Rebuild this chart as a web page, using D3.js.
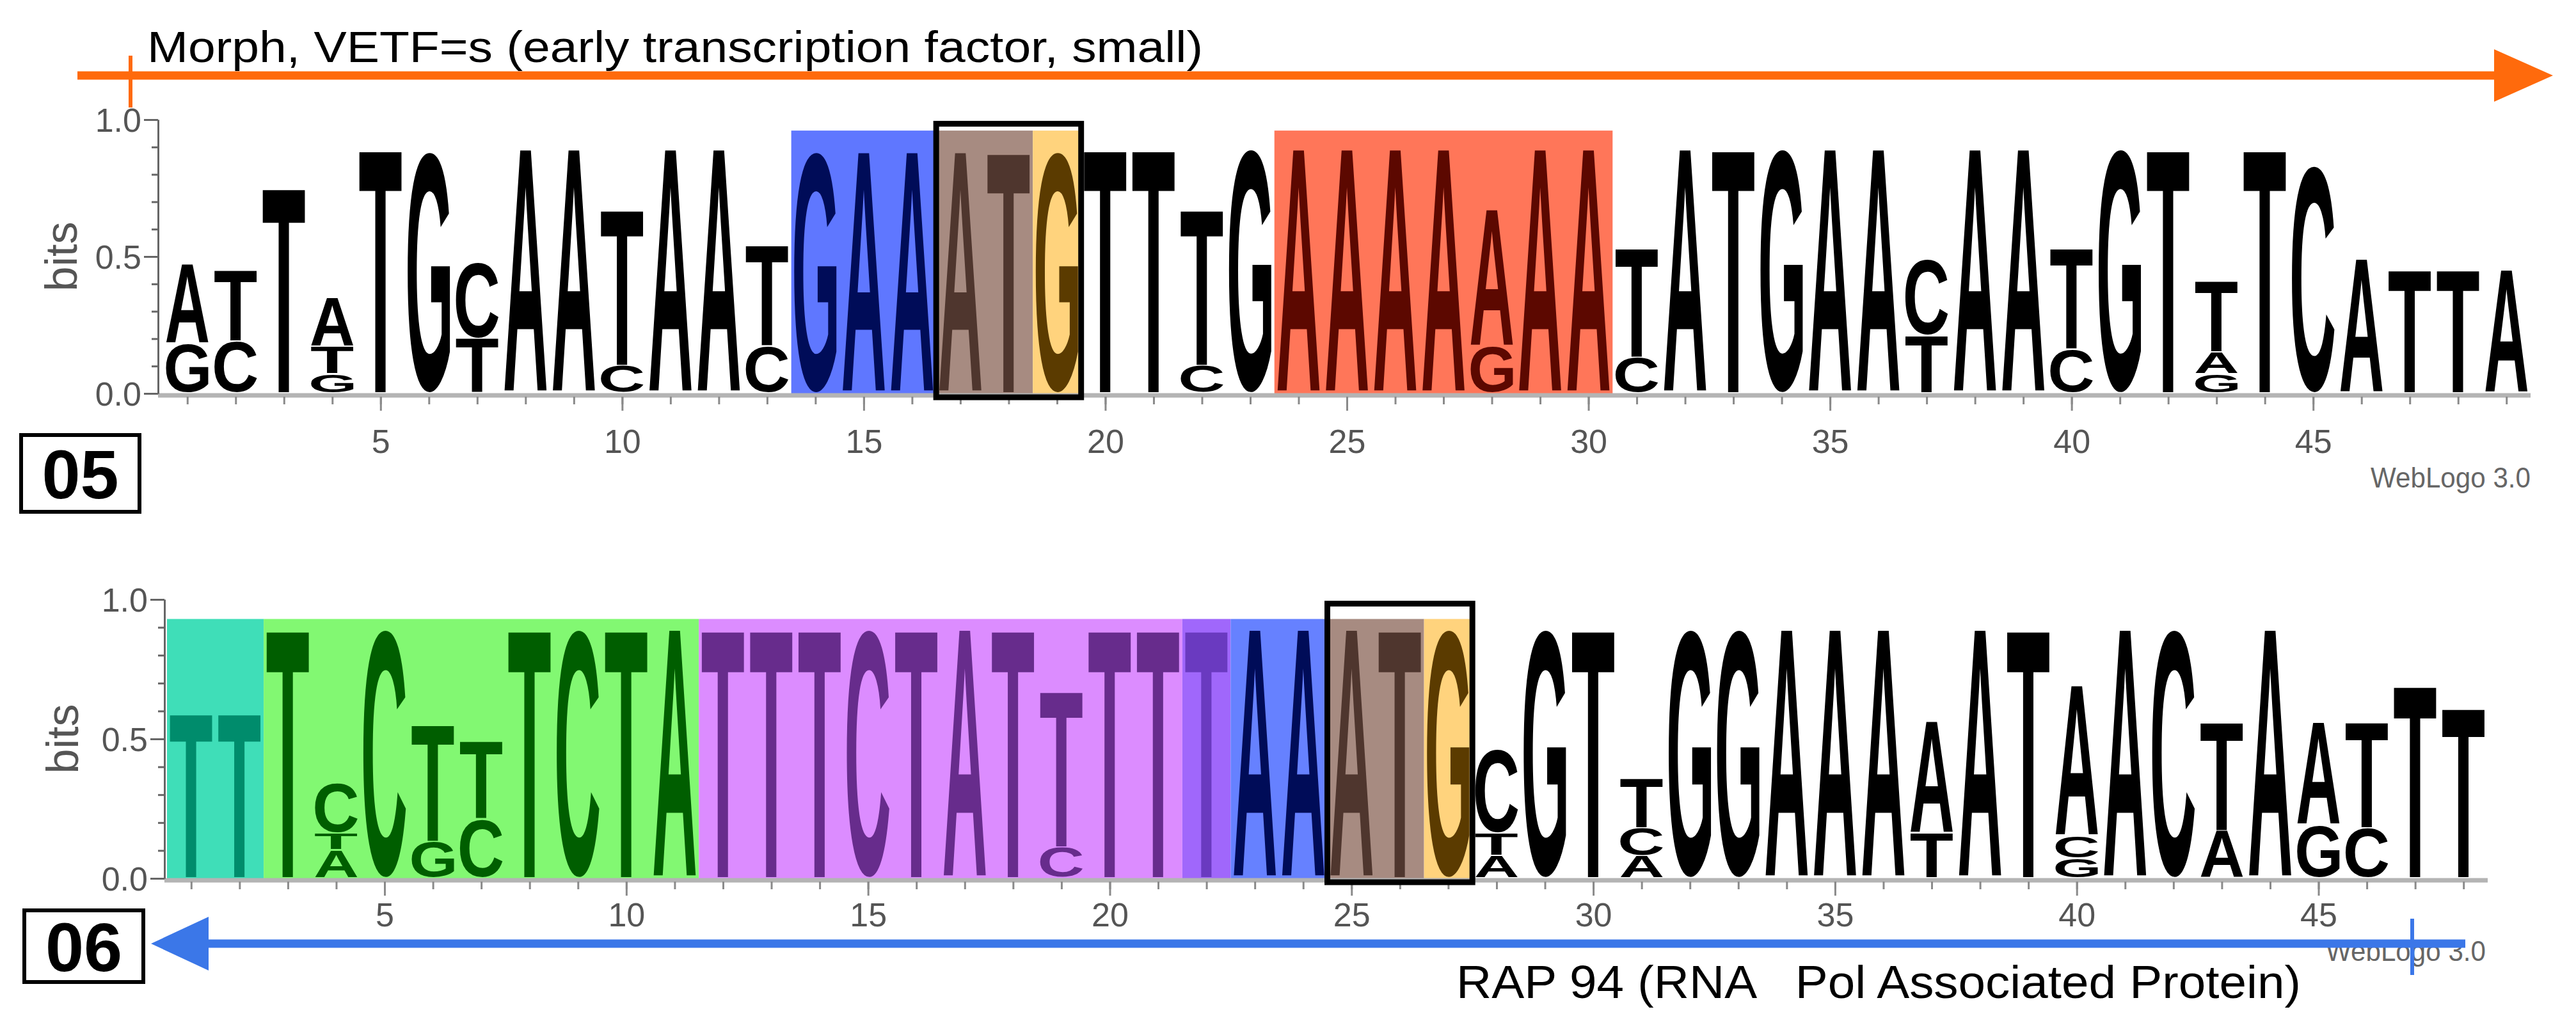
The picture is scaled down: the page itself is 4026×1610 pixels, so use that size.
<!DOCTYPE html>
<html>
<head>
<meta charset="utf-8">
<script src="https://cdn.jsdelivr.net/npm/d3@7"></script>
<style>
  html, body { margin: 0; padding: 0; background: #ffffff; }
  svg { display: block; }
  text { font-family: "Liberation Sans", Arial, Helvetica, sans-serif; }
</style>
</head>
<body>
<script>
// ---------------- DATA ----------------
// Each position: stack of [letter, bits], bottom to top.
const logo05 = [
  [["G",0.18],["A",0.29]],
  [["C",0.19],["T",0.26]],
  [["T",0.75]],
  [["G",0.07],["T",0.10],["A",0.18]],
  [["T",0.89]],
  [["G",0.88]],
  [["T",0.20],["C",0.28]],
  [["A",0.89]],
  [["A",0.89]],
  [["C",0.10],["T",0.57]],
  [["A",0.89]],
  [["A",0.89]],
  [["C",0.17],["T",0.37]],
  [["G",0.88]],
  [["A",0.88]],
  [["A",0.88]],
  [["A",0.88]],
  [["T",0.88]],
  [["G",0.88]],
  [["T",0.89]],
  [["T",0.89]],
  [["C",0.10],["T",0.57]],
  [["G",0.89]],
  [["A",0.89]],
  [["A",0.89]],
  [["A",0.89]],
  [["A",0.89]],
  [["G",0.17],["A",0.50]],
  [["A",0.89]],
  [["A",0.89]],
  [["C",0.13],["T",0.40]],
  [["A",0.89]],
  [["T",0.89]],
  [["G",0.89]],
  [["A",0.89]],
  [["A",0.89]],
  [["T",0.21],["C",0.28]],
  [["A",0.89]],
  [["A",0.89]],
  [["C",0.16],["T",0.37]],
  [["G",0.89]],
  [["T",0.89]],
  [["G",0.07],["A",0.08],["T",0.26]],
  [["T",0.89]],
  [["C",0.83]],
  [["A",0.49]],
  [["T",0.45]],
  [["T",0.45]],
  [["A",0.45]]
];

const logo06 = [
  [["T",0.59]],
  [["T",0.59]],
  [["T",0.89]],
  [["A",0.10],["T",0.06],["C",0.18]],
  [["C",0.89]],
  [["G",0.13],["T",0.42]],
  [["C",0.21],["T",0.28]],
  [["T",0.89]],
  [["C",0.89]],
  [["T",0.89]],
  [["A",0.89]],
  [["T",0.89]],
  [["T",0.89]],
  [["T",0.89]],
  [["C",0.89]],
  [["T",0.89]],
  [["A",0.89]],
  [["T",0.89]],
  [["C",0.11],["T",0.56]],
  [["T",0.89]],
  [["T",0.89]],
  [["T",0.89]],
  [["A",0.89]],
  [["A",0.89]],
  [["A",0.89]],
  [["T",0.89]],
  [["G",0.89]],
  [["A",0.08],["T",0.08],["C",0.30]],
  [["G",0.89]],
  [["T",0.89]],
  [["A",0.08],["C",0.10],["T",0.18]],
  [["G",0.89]],
  [["G",0.89]],
  [["A",0.89]],
  [["A",0.89]],
  [["A",0.89]],
  [["T",0.16],["A",0.40]],
  [["A",0.89]],
  [["T",0.89]],
  [["G",0.07],["C",0.08],["A",0.54]],
  [["A",0.89]],
  [["C",0.89]],
  [["A",0.17],["T",0.39]],
  [["A",0.89]],
  [["G",0.19],["A",0.37]],
  [["C",0.18],["T",0.38]],
  [["T",0.69]],
  [["T",0.61]]
];

// highlighted regions (first position, last position) and the bits level of their top edge
const regions05 = [[14,16],[17,18],[19,19],[24,30]];
const regionTop05 = 0.96;
const startCodon05 = [17,19];
const regions06 = [[1,2],[3,11],[12,21],[22,22],[23,24],[25,26],[27,27]];
const regionTop06 = 0.93;
const startCodon06 = [25,27];

const xTickValues = [5,10,15,20,25,30,35,40,45];
const yMajorTicks = [0, 0.5, 1.0];
const yMinorTicks = [0,0.1,0.2,0.3,0.4,0.5,0.6,0.7,0.8,0.9,1.0];

const titleTop = "Morph, VETF=s (early transcription factor, small)";
const titleBottom = "RAP 94 (RNA   Pol Associated Protein)";
const panelLabels = ["05","06"];
const creditText = "WebLogo 3.0";
const yLabel = "bits";

// ---------------- STYLES ----------------
const fills05 = ["#5f77ff","#a78b81","#ffd37d","#ff7659"];
const inks05  = ["#000c58","#4f362e","#5b3b00","#5c0800"];
const fills06 = ["#3fdeb8","#82f872","#dc8cff","#a067fb","#6681ff","#a78b81","#ffd37d"];
const inks06  = ["#008c6c","#005e00","#672c8c","#6a3ac0","#000c58","#4f362e","#5b3b00"];

const W = 4026, H = 1610;
const svg = d3.select("body").append("svg").attr("width", W).attr("height", H);

// glyph ink metrics via canvas
const FONT_PX = 200;
const ctx = document.createElement("canvas").getContext("2d");
ctx.font = `bold ${FONT_PX}px "Liberation Sans", Arial, sans-serif`;
const metrics = {};
["A","C","G","T"].forEach(ch => {
  const m = ctx.measureText(ch);
  metrics[ch] = {
    left: m.actualBoundingBoxLeft, right: m.actualBoundingBoxRight,
    asc: m.actualBoundingBoxAscent, desc: m.actualBoundingBoxDescent
  };
});

function glyph(g, ch, x0, y0, w, h, color) {
  if (h <= 0.5) return;
  const m = metrics[ch];
  const iw = m.left + m.right, ih = m.asc + m.desc;
  g.append("text")
    .attr("transform", `translate(${x0},${y0}) scale(${w/iw},${h/ih}) translate(${m.left},${m.asc})`)
    .attr("font-size", FONT_PX)
    .attr("font-weight", "bold")
    .attr("fill", color)
    .text(ch);
}

function drawPanel(opt) {
  const N = opt.data.length;
  const g = svg.append("g");
  const x = d3.scaleLinear().domain([0.5, N + 0.5]).range([opt.left, opt.right]);
  const y = d3.scaleLinear().domain([0, 1]).range([opt.base, opt.one]);
  const step = x(1) - x(0);

  // region backgrounds
  opt.regions.forEach(([a, b], i) => {
    g.append("rect")
      .attr("x", x(a - 0.5)).attr("y", y(opt.regionTop))
      .attr("width", x(b + 0.5) - x(a - 0.5))
      .attr("height", y(0) + 5 - y(opt.regionTop))
      .attr("fill", opt.fills[i]);
  });

  // x baseline
  g.append("line")
    .attr("x1", opt.axisX).attr("x2", x(N + 0.5))
    .attr("y1", y(0) + 3).attr("y2", y(0) + 3)
    .attr("stroke", "#b4b4b4").attr("stroke-width", 7);

  // x axis ticks via d3 axis
  const xAxisMinor = d3.axisBottom(x).tickValues(d3.range(1, N + 1)).tickSize(12).tickFormat("").tickSizeOuter(0);
  const xAxisMajor = d3.axisBottom(x).tickValues(xTickValues).tickSize(22).tickFormat(d3.format("d")).tickSizeOuter(0);
  const gxMinor = g.append("g").attr("transform", `translate(0,${y(0) + 5})`).call(xAxisMinor);
  const gxMajor = g.append("g").attr("transform", `translate(0,${y(0) + 5})`).call(xAxisMajor);
  gxMinor.selectAll(".tick text").remove();
  [gxMinor, gxMajor].forEach(a => {
    a.select(".domain").remove();
    a.selectAll(".tick line").attr("stroke", "#8a8a8a").attr("stroke-width", 3);
  });
  gxMajor.selectAll(".tick text")
    .attr("y", opt.tickLabelDy).attr("dy", "0.35em")
    .attr("font-size", 52).attr("fill", "#555");

  // letters
  const inkFor = pos => {
    for (let i = 0; i < opt.regions.length; i++) {
      if (pos >= opt.regions[i][0] && pos <= opt.regions[i][1]) return opt.inks[i];
    }
    return "#000";
  };
  const lw = step * 0.88;
  opt.data.forEach((stack, i) => {
    const pos = i + 1;
    let acc = 0;
    stack.forEach(([ch, v]) => {
      const yTop = y(acc + v), yBot = y(acc);
      glyph(g, ch, x(pos) - lw / 2, yTop, lw, yBot - yTop - 2, inkFor(pos));
      acc += v;
    });
  });

  // start codon outline
  g.append("rect")
    .attr("x", x(opt.codon[0] - 0.5)).attr("y", y(0.985))
    .attr("width", x(opt.codon[1] + 0.5) - x(opt.codon[0] - 0.5))
    .attr("height", y(0) + 6 - y(0.985))
    .attr("fill", "none").attr("stroke", "#000").attr("stroke-width", 9);

  // y axis
  const yMinor = d3.axisLeft(y).tickValues(yMinorTicks).tickSize(10).tickFormat("").tickSizeOuter(0);
  const yMajor = d3.axisLeft(y).tickValues(yMajorTicks).tickSize(22).tickFormat(d3.format(".1f")).tickSizeOuter(0);
  const gy1 = g.append("g").attr("transform", `translate(${opt.axisX},0)`).call(yMinor);
  const gy2 = g.append("g").attr("transform", `translate(${opt.axisX},0)`).call(yMajor);
  gy1.selectAll(".tick text").remove();
  [gy1, gy2].forEach(a => {
    a.select(".domain").attr("stroke", "#666").attr("stroke-width", 3);
    a.selectAll(".tick line").attr("stroke", "#666").attr("stroke-width", 3);
  });
  gy2.selectAll(".tick text")
    .attr("x", -26).attr("dy", "0.35em")
    .attr("font-size", 52).attr("fill", "#555");

  // "bits"
  g.append("text")
    .attr("transform", `translate(${opt.bitsX},${y(0.5)}) rotate(-90)`)
    .attr("text-anchor", "middle").attr("dy", "0.35em")
    .attr("font-size", 70).attr("fill", "#555")
    .text(yLabel);

  // credit
  g.append("text")
    .attr("x", opt.creditX).attr("y", opt.creditY).attr("dy", "0.35em")
    .attr("font-size", 44).attr("fill", "#666")
    .attr("textLength", 250).attr("lengthAdjust", "spacingAndGlyphs")
    .text(creditText);

  // panel label box
  g.append("rect")
    .attr("x", opt.labelBox[0]).attr("y", opt.labelBox[1])
    .attr("width", opt.labelBox[2]).attr("height", opt.labelBox[3])
    .attr("fill", "#fff").attr("stroke", "#000").attr("stroke-width", 6);
  g.append("text")
    .attr("x", opt.labelBox[0] + opt.labelBox[2] / 2)
    .attr("y", opt.labelBox[1] + opt.labelBox[3] / 2)
    .attr("text-anchor", "middle").attr("dy", "0.36em")
    .attr("font-size", 108).attr("font-weight", "bold").attr("fill", "#000")
    .text(opt.label);
  return { x, y };
}

// ---- top panel (05) ----
drawPanel({
  data: logo05, left: 255, right: 3955, base: 615, one: 187, axisX: 247,
  regions: regions05, regionTop: regionTop05, fills: fills05, inks: inks05, codon: startCodon05,
  tickLabelDy: 70, bitsX: 95, creditX: 3705, creditY: 747,
  labelBox: [33, 680, 185, 120], label: panelLabels[0]
});

// ---- bottom panel (06) ----
drawPanel({
  data: logo06, left: 261, right: 3888, base: 1373, one: 937, axisX: 257,
  regions: regions06, regionTop: regionTop06, fills: fills06, inks: inks06, codon: startCodon06,
  tickLabelDy: 52, bitsX: 97, creditX: 3635, creditY: 1487,
  labelBox: [38, 1423, 186, 112], label: panelLabels[1]
});

// ---- orange arrow (top) ----
const orange = "#ff6a0c";
svg.append("line").attr("x1", 121).attr("x2", 3905).attr("y1", 118).attr("y2", 118)
  .attr("stroke", orange).attr("stroke-width", 13);
svg.append("path").attr("d", "M3898,77 L3990,118 L3898,159 Z").attr("fill", orange);
svg.append("line").attr("x1", 204).attr("x2", 204).attr("y1", 87).attr("y2", 168)
  .attr("stroke", orange).attr("stroke-width", 6);
svg.append("text").attr("x", 230).attr("y", 97)
  .attr("font-size", 68).attr("fill", "#000")
  .attr("textLength", 1650).attr("lengthAdjust", "spacingAndGlyphs")
  .text(titleTop);

// ---- blue arrow (bottom) ----
const blue = "#3b77e8";
svg.append("line").attr("x1", 320).attr("x2", 3853).attr("y1", 1475).attr("y2", 1475)
  .attr("stroke", blue).attr("stroke-width", 13);
svg.append("path").attr("d", "M236,1475 L326,1433 L326,1517 Z").attr("fill", blue);
svg.append("line").attr("x1", 3770).attr("x2", 3770).attr("y1", 1436).attr("y2", 1524)
  .attr("stroke", blue).attr("stroke-width", 6);
svg.append("text").attr("x", 2276).attr("y", 1560)
  .attr("font-size", 72).attr("fill", "#000")
  .style("white-space", "pre")
  .attr("textLength", 1320).attr("lengthAdjust", "spacingAndGlyphs")
  .text(titleBottom);
</script>
</body>
</html>
